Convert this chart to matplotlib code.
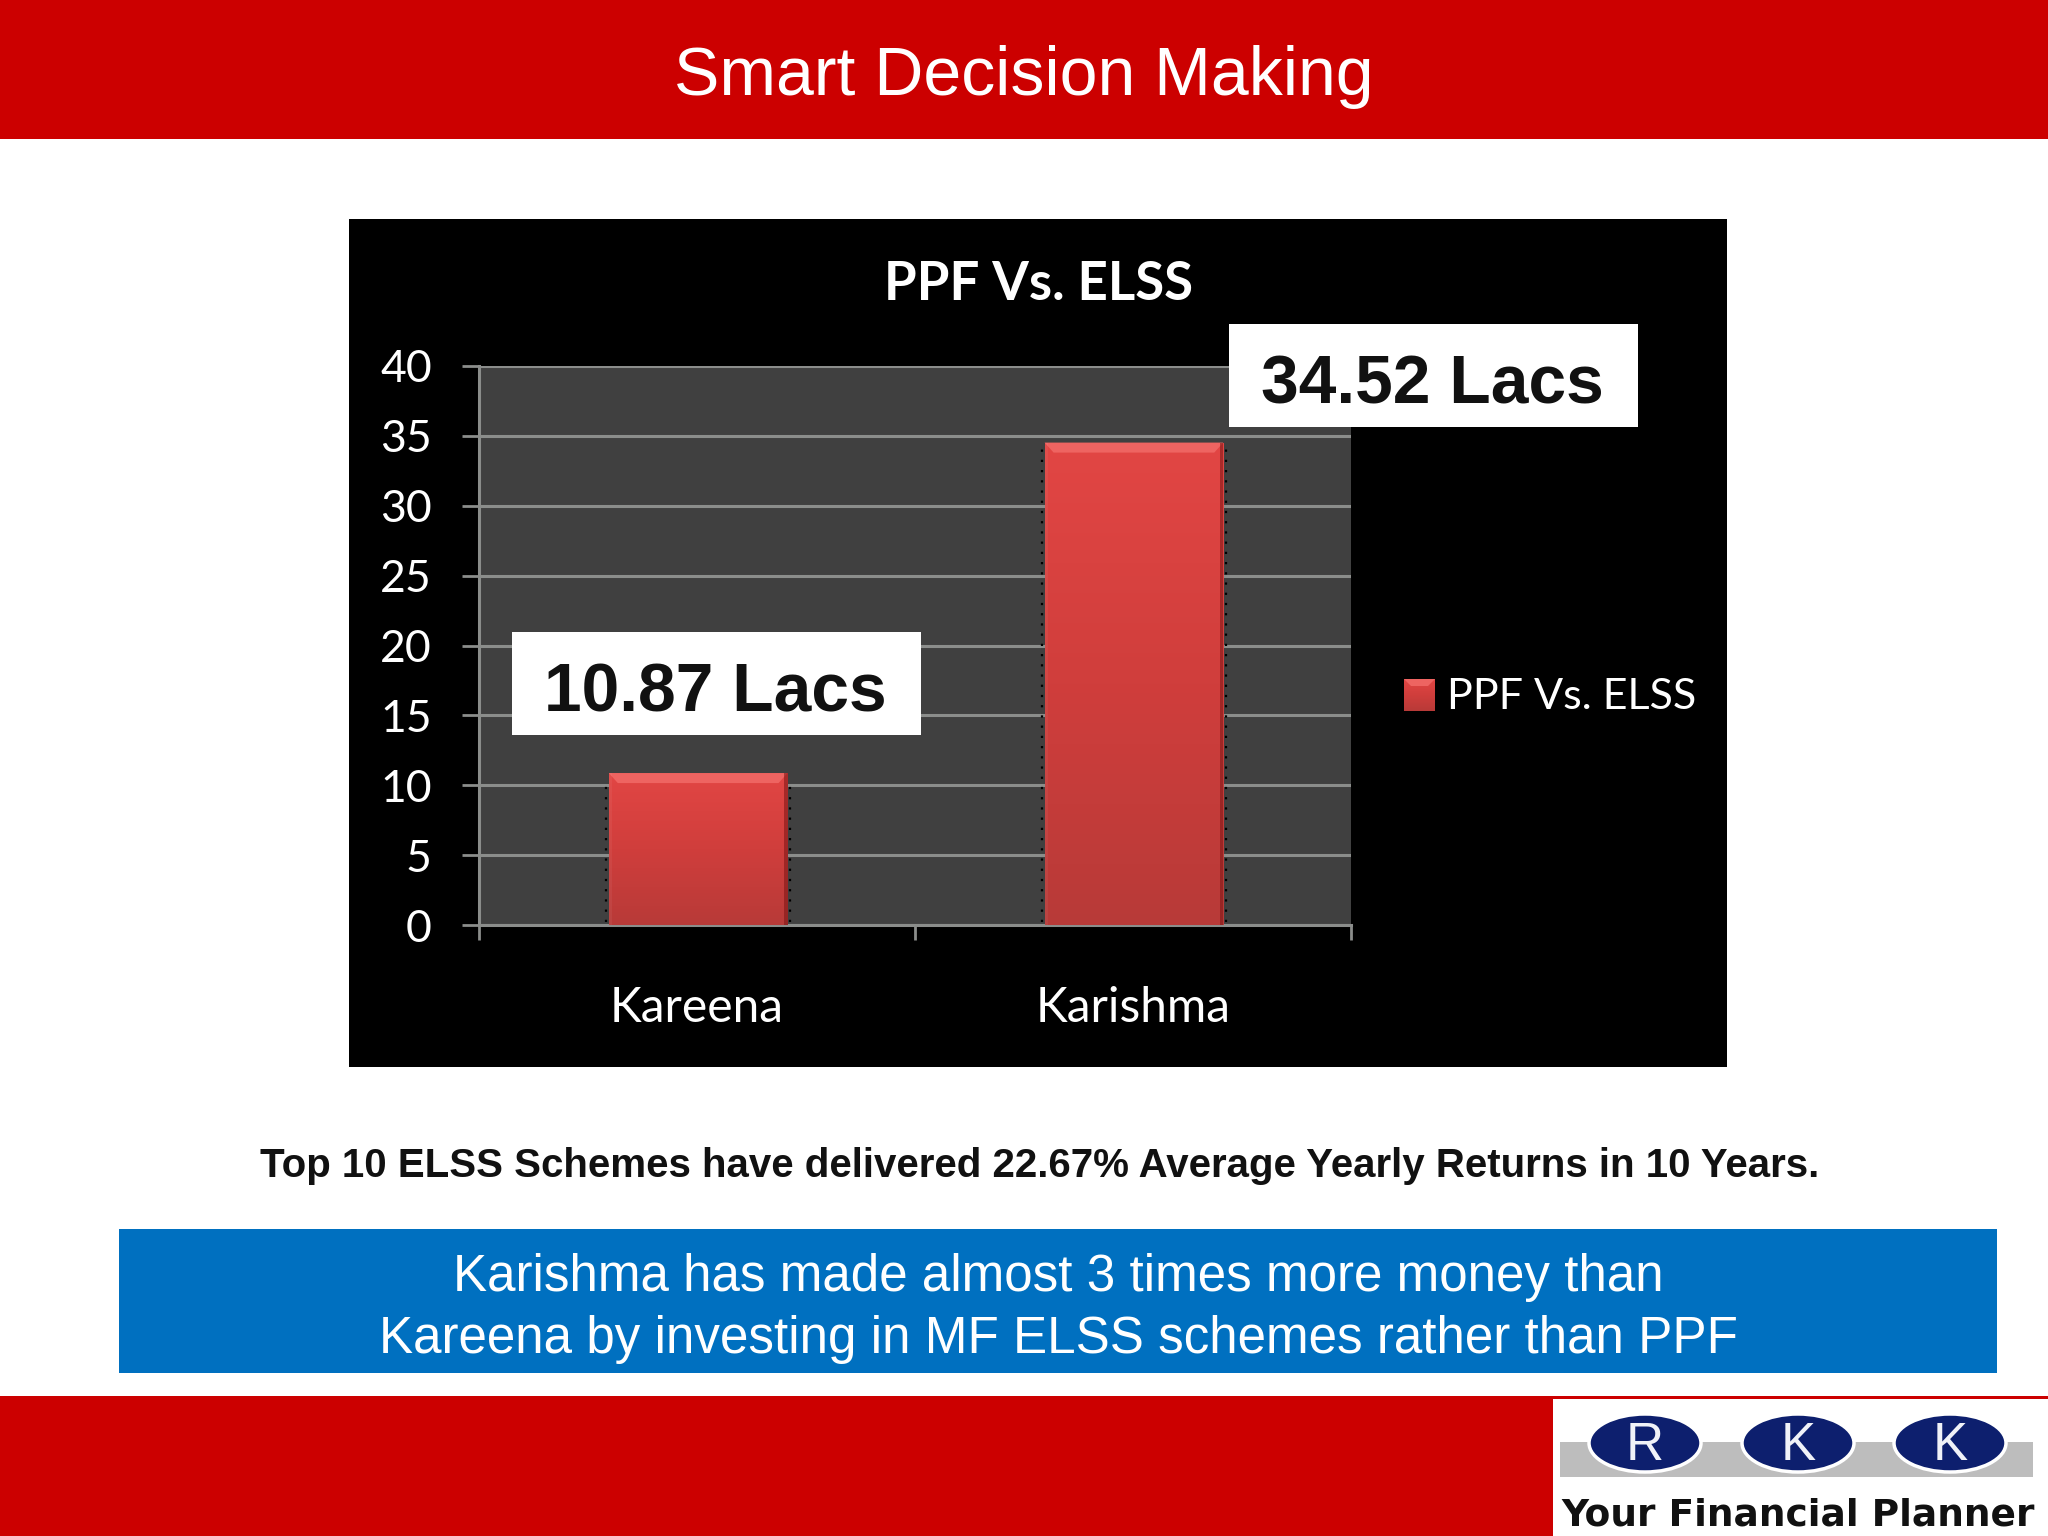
import numpy as np
import matplotlib
matplotlib.use("Agg")
import matplotlib.pyplot as plt
from matplotlib.colors import LinearSegmentedColormap
from matplotlib.patches import Ellipse, Polygon, Rectangle

W, H = 2048, 1536

names = ["Kareena", "Karishma"]
values = [10.87, 34.52]
callouts = ["10.87 Lacs", "34.52 Lacs"]
y_ticks = [0, 5, 10, 15, 20, 25, 30, 35, 40]
series_name = "PPF Vs. ELSS"

RED = "#cc0000"
BLUE = "#0070c0"
GRID = "#8b8d8b"
BODY = "Liberation Sans"
CHART = "Lato"

bar_cmap = LinearSegmentedColormap.from_list("bar", ["#e24644", "#d03e3c", "#b83a38"])

fig = plt.figure(figsize=(W / 100, H / 100), dpi=100, facecolor="white")

# page furniture is laid out in image pixels
page = fig.add_axes([0, 0, 1, 1], zorder=0)
page.set_xlim(0, W)
page.set_ylim(H, 0)
page.axis("off")

page.add_patch(Rectangle((0, 0), W, 139, color=RED, lw=0))
page.add_patch(Rectangle((0, 1396), W, 140, color=RED, lw=0))
page.add_patch(Rectangle((349, 219), 1378, 848, color="black", lw=0))
page.add_patch(Rectangle((119, 1229), 1878, 144, color=BLUE, lw=0))

page.text(1024, 77, "Smart Decision Making", color="white", fontsize=49,
          family=BODY, ha="center", va="center")
page.text(1040, 1166, "Top 10 ELSS Schemes have delivered 22.67% Average Yearly Returns in 10 Years.",
          color="#111111", fontsize=29, family=BODY, weight="bold", ha="center", va="center")
page.text(1058, 1277, "Karishma has made almost 3 times more money than", color="white",
          fontsize=36.8, family=BODY, ha="center", va="center")
page.text(1058, 1339, "Kareena by investing in MF ELSS schemes rather than PPF", color="white",
          fontsize=36.8, family=BODY, ha="center", va="center")
page.text(1038, 285, series_name, color="white", fontsize=38, family=CHART,
          weight="bold", ha="center", va="center")

# logo
page.add_patch(Rectangle((1553, 1399), 495, 137, color="white", lw=0))
page.add_patch(Rectangle((1560, 1442), 473, 35, color="#bdbdbd", lw=0))
for cx, letter in zip([1645, 1798, 1950], ["R", "K", "K"]):
    page.add_patch(Ellipse((cx, 1443), 112, 58, fc="#0d1f6e", ec="white", lw=2.5))
    page.text(cx, 1446, letter, color="#f0f2f8", fontsize=38, family=BODY,
              ha="center", va="center")
page.text(1798, 1516, "Your Financial Planner", color="#111111", fontsize=27,
          family="DejaVu Sans", weight="bold", ha="center", va="center")

# chart
ax = fig.add_axes([479 / W, 1 - 925 / H, 871.5 / W, 559 / H], zorder=1)
ax.set_facecolor("#404040")
ax.set_xlim(0, 2)
ax.set_ylim(0, 40)
ax.set_axisbelow(True)
ax.grid(axis="y", color=GRID, lw=2.2)

pos = np.arange(len(values)) + 0.5
bar_w = 0.41
bars = ax.bar(pos + 0.003, values, width=bar_w, color="#c93f3d", lw=0, zorder=3)
grad = np.linspace(0, 1, 256).reshape(-1, 1)
dx = 9 / 435.75
dy = 10 / 13.975
for b, v, x in zip(bars, values, pos + 0.003):
    l, r = x - bar_w / 2, x + bar_w / 2
    im = ax.imshow(grad, cmap=bar_cmap, extent=(l, r, 0, v), origin="upper",
                   aspect="auto", zorder=3.1)
    im.set_clip_path(b)
    ax.add_patch(Polygon([(l, v), (r, v), (r - dx, v - dy), (l + dx, v - dy)],
                         fc="#ee6461", lw=0, zorder=3.2))
    ax.add_patch(Rectangle((l, 0), dx * 0.4, v, fc="#ffffff", alpha=0.05, lw=0, zorder=3.2))
    ax.add_patch(Rectangle((r - dx * 0.4, 0), dx * 0.4, v, fc="#7a1414", alpha=0.55, lw=0, zorder=3.2))
    for side, off in ((l, -0.006), (r, 0.006)):
        ax.plot([side + off, side + off], [0.2, v - 0.4], color="black", lw=1.6,
                ls=(0, (1, 3.6)), zorder=3.3)

ax.set_xticks([0, 1, 2])
ax.set_xticklabels([])
ax.set_xticks(pos, minor=True)
ax.set_xticklabels(names, minor=True, color="white", fontsize=34.5, family=CHART)
ax.tick_params(axis="x", which="major", length=11, width=2, color=GRID)
ax.tick_params(axis="x", which="minor", length=0, pad=44)
ax.set_yticks(y_ticks)
ax.set_yticklabels(y_ticks, color="white", fontsize=32, family=CHART)
ax.tick_params(axis="y", length=12, width=2, color=GRID, pad=22)
for s in ("top", "right"):
    ax.spines[s].set_visible(False)
for s in ("left", "bottom"):
    ax.spines[s].set_color(GRID)
    ax.spines[s].set_linewidth(2.2)

# white callouts and legend sit on top of the chart
over = fig.add_axes([0, 0, 1, 1], zorder=2)
over.set_xlim(0, W)
over.set_ylim(H, 0)
over.axis("off")
over.patch.set_alpha(0)
for (bx, by, bw, bh), label in zip([(512, 632, 409, 103), (1229, 324, 409, 103)], callouts):
    over.add_patch(Rectangle((bx, by), bw, bh, color="white", lw=0))
    over.text(bx + bw / 2 - 1, by + bh / 2 + 10, label, color="#111111", fontsize=48.8,
              family=BODY, weight="bold", ha="center", va="center")

swatch = over.imshow(grad, cmap=bar_cmap, extent=(1404, 1435, 711, 679), aspect="auto")
over.set_xlim(0, W)
over.set_ylim(H, 0)
over.add_patch(Polygon([(1404, 679), (1435, 679), (1428, 686), (1411, 686)], fc="#ee6461", lw=0))
over.text(1447, 697, series_name, color="white", fontsize=31, family=CHART, ha="left", va="center")

fig.savefig("out.png", dpi=100, facecolor="white")
